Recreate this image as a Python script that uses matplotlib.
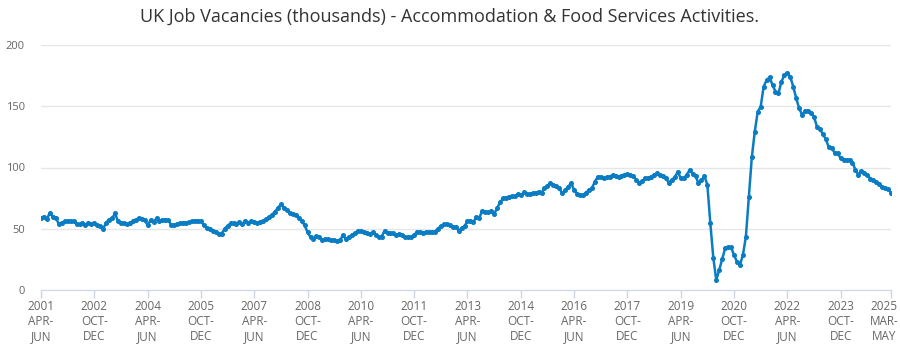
import numpy as np
import matplotlib
matplotlib.use("Agg")
import matplotlib.pyplot as plt

plt.rcParams['font.family'] = ['Open Sans', 'DejaVu Sans']

# rolling 3-month periods, first centred on May 2001, last on Apr 2025
first_year, first_month = 2001, 5
mon = ["JAN", "FEB", "MAR", "APR", "MAY", "JUN", "JUL", "AUG", "SEP", "OCT", "NOV", "DEC"]

# vacancies, thousands
v2001 = [59, 60, 58, 63, 60, 59, 54, 55]
v2002 = [56, 56, 56.5, 56, 54, 53.5, 55, 53, 55, 53.5, 54.5, 53]
v2003 = [52, 50, 55, 57.5, 58.5, 62.5, 56, 55, 54.5, 54, 55, 56]
v2004 = [57.5, 58.5, 58, 57, 53, 57, 55.5, 58.5, 56, 57, 57.5, 57]
v2005 = [53, 53, 54, 54.5, 55, 55, 55.5, 56, 56.6, 56.5, 56, 53]
v2006 = [51, 49.5, 48.5, 47, 45.7, 46, 50, 52.5, 54.4, 54.5, 53.5, 55.5]
v2007 = [54, 56.5, 55, 56.3, 55.5, 55, 55.5, 56.5, 57.7, 59.5, 61.5, 64]
v2008 = [67, 70, 67, 65.5, 63, 62, 61, 58.5, 56, 53, 47, 43]
v2009 = [42, 44, 43.5, 41, 41.5, 41.5, 41, 40.8, 40, 41, 44.6, 41.4]
v2010 = [43.5, 45, 46.5, 48.4, 48, 47, 46.5, 45.7, 47, 45, 43, 43.5]
v2011 = [48.4, 46.8, 46.5, 46.3, 45.2, 45.7, 45, 43, 43.2, 43.5, 45, 47.6]
v2012 = [47.5, 46.8, 47, 47.6, 47.6, 47.6, 50, 52.2, 53.5, 53.5, 53, 51.5]
v2013 = [51.7, 48.5, 50.3, 52.2, 56, 56.6, 55.8, 59.3, 59.1, 64.5, 64, 63.5]
v2014 = [64.7, 62, 66.7, 71.5, 74.8, 75.5, 76.2, 76.5, 76.7, 78.4, 77.3, 79.7]
v2015 = [78.1, 78.5, 78.9, 79.5, 80.3, 79.5, 83, 85, 87.1, 86, 85.2, 83]
v2016 = [78.9, 81.5, 84.4, 87.1, 81.6, 78.5, 77.6, 77.6, 79.5, 81.6, 83, 88.4]
v2017 = [92.5, 92, 91.2, 92, 92.5, 93.9, 93, 92, 93, 94, 94.7, 93.5]
v2018 = [93.1, 90, 87.1, 89, 91.2, 91.5, 92.5, 94, 95.2, 94, 93.1, 91.2]
v2019 = [87.6, 90, 92, 96.6, 91.2, 91.2, 94, 97.9, 95, 93.1, 87.1, 89.8]
v2020 = [93, 85.7, 54.4, 26.4, 8.2, 16.3, 25.3, 34, 34.8, 34.8, 28.6, 23]
v2021 = [20.4, 28.6, 43.5, 76.2, 108.3, 129.2, 145.6, 149.7, 166, 171.4, 173.6, 167.3]
v2022 = [162, 160.5, 170, 175.5, 177.4, 174, 166, 156.5, 148.3, 142.9, 146.4, 146.4]
v2023 = [144.3, 141.5, 133.3, 131.2, 127.3, 123, 116.5, 115.7, 112, 111.5, 107.5, 106]
v2024 = [106.5, 106, 104, 98, 94, 97.4, 95.5, 93.9, 91, 89.5, 88, 86.5]
v2025 = [84.3, 83, 82.4, 79.4]

values = (v2001 + v2002 + v2003 + v2004 + v2005 + v2006 + v2007 + v2008 + v2009
          + v2010 + v2011 + v2012 + v2013 + v2014 + v2015 + v2016 + v2017 + v2018
          + v2019 + v2020 + v2021 + v2022 + v2023 + v2024 + v2025)

periods = []
for i in range(len(values)):
    m = first_month - 1 + i
    y = first_year + m // 12
    m = m % 12
    periods.append(str(y) + "\n" + mon[(m - 1) % 12] + "-\n" + mon[(m + 1) % 12])

fig = plt.figure(figsize=(9, 3.51), dpi=100)
ax = fig.add_axes([41 / 900, 1 - 290 / 351, 850 / 900, 245 / 351])

x = np.arange(len(values))
ax.plot(x, values, color='#0a7cc4', lw=1.8, marker='o', ms=2.6, zorder=3)

ax.set_xlim(0, len(values) - 1)
ax.set_ylim(0, 200)
ax.set_yticks([0, 50, 100, 150, 200])
ax.yaxis.grid(True, color='#e6e6e6', lw=1)
ax.set_axisbelow(True)

last = len(values) - 1
ticks = list(range(0, len(values), 18)) + [last]
ax.set_xticks(ticks)
ax.set_xticklabels([periods[t] for t in ticks[:-1]] + [""], linespacing=1.2)
# last label nudged left so it stays inside the figure, like the original
ax.annotate(periods[last], xy=(last, 0), xycoords=('data', 'axes fraction'),
            xytext=(-5, -5.5 - 1.5), textcoords='offset points', ha='center', va='top',
            fontsize=8.5, color='#666666', linespacing=1.2, annotation_clip=False)

for s in ['top', 'right', 'left']:
    ax.spines[s].set_visible(False)
ax.spines['bottom'].set_color('#ccd6eb')
ax.tick_params(axis='x', colors='#ccd6eb', length=5.5, width=1, labelcolor='#666666',
               labelsize=8.5, pad=1.5)
ax.tick_params(axis='y', length=0, labelcolor='#666666', labelsize=8, pad=11.5)

fig.text(0.5, 1 - 17 / 351, "UK Job Vacancies (thousands) - Accommodation & Food Services Activities.",
         ha='center', va='center', fontsize=13, color='#333333')

fig.savefig('out.png', dpi=100)
